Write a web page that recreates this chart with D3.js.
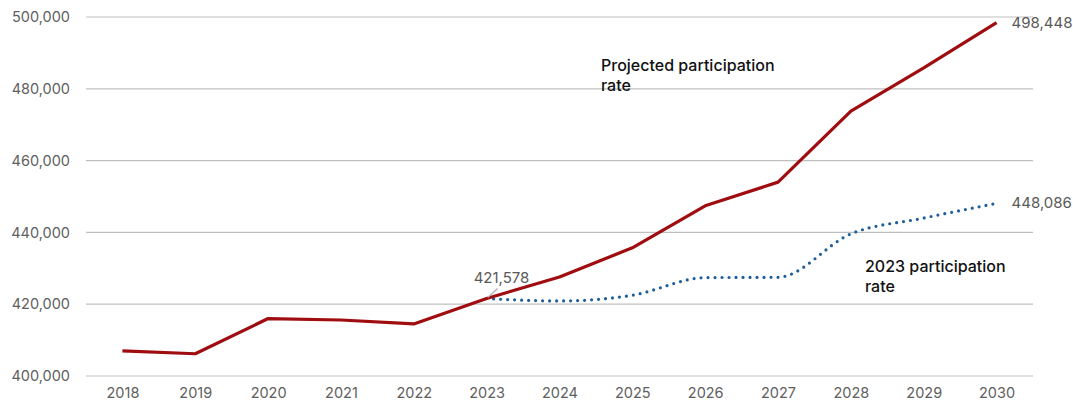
<!DOCTYPE html>
<html><head><meta charset="utf-8">
<script src="https://cdn.jsdelivr.net/npm/d3@7/dist/d3.min.js"></script>
<style>
body{margin:0;background:#fff;}
svg{display:block;font-family:Inter, "Noto Sans", sans-serif;}
</style></head>
<body><svg id="c" width="1073" height="402"></svg>
<script>
const years = [2018,2019,2020,2021,2022,2023,2024,2025,2026,2027,2028,2029,2030];
const projected = [407000,406200,416000,415600,414500,421578,427600,435700,447400,454000,473800,485800,498448];
const blueYears = [2023,2024,2025,2026,2027,2028,2029,2030];
const rate2023 = [421578,420900,422500,427400,427500,439600,444000,448086];
const yTicks = [400000,420000,440000,460000,480000,500000];

(function(){
const svg = d3.select("#c");
const mLeft = 86, mRight = 1033, mTop = 17, mBottom = 376;
const x = d3.scalePoint().domain(years).range([mLeft, mRight]).padding(0.5);
const y = d3.scaleLinear().domain([400000, 500000]).range([mBottom, mTop]);
const fmt = d3.format(",");

// gridlines
svg.append("g").selectAll("line").data(yTicks).join("line")
  .attr("x1", mLeft).attr("x2", mRight)
  .attr("y1", d => y(d)).attr("y2", d => y(d))
  .attr("stroke", "#bfbfbf").attr("stroke-width", 1.2);

// y axis labels
const ya = svg.append("g").attr("transform", `translate(${mLeft},0)`)
  .call(d3.axisLeft(y).tickValues(yTicks).tickFormat(fmt).tickSize(0).tickPadding(16));
ya.select(".domain").remove();
ya.selectAll("text").attr("fill", "#606060").style("font-size", "14.5px").style("font-family", "Inter, sans-serif");

// x axis labels
const xa = svg.append("g").attr("transform", `translate(0,${mBottom})`)
  .call(d3.axisBottom(x).tickSize(0).tickPadding(12));
xa.select(".domain").remove();
xa.selectAll("text").attr("fill", "#606060").style("font-size", "14.5px").style("font-family", "Inter, sans-serif");

// blue dotted line
svg.append("path")
  .datum(blueYears.map((d, i) => [d, rate2023[i]]))
  .attr("fill", "none").attr("stroke", "#1f5f99").attr("stroke-width", 3.2)
  .attr("stroke-linecap", "round").attr("stroke-dasharray", "0 7")
  .attr("d", d3.line().x(d => x(d[0])).y(d => y(d[1])).curve(d3.curveMonotoneX));

// red line
svg.append("path")
  .datum(years.map((d, i) => [d, projected[i]]))
  .attr("fill", "none").attr("stroke", "#a00d10").attr("stroke-width", 3.2)
  .attr("stroke-linejoin", "round")
  .attr("d", d3.line().x(d => x(d[0])).y(d => y(d[1])));

// leader line for 421,578
const px = x(2023), py = y(421578);
svg.append("line").attr("x1", px + 1).attr("y1", py - 1).attr("x2", px + 11).attr("y2", py - 10)
  .attr("stroke", "#b0b0b0").attr("stroke-width", 1.2);

const valStyle = s => s.attr("fill", "#595959").style("font-size", "15px");
valStyle(svg.append("text").attr("x", px - 13).attr("y", py - 16).text(fmt(421578)));
valStyle(svg.append("text").attr("x", x(2030) + 15).attr("y", y(498448) + 5).text(fmt(498448)));
valStyle(svg.append("text").attr("x", x(2030) + 15).attr("y", y(448086) + 5).text(fmt(448086)));

// series labels
const lab = (tx, ty, lines) => {
  const t = svg.append("text").attr("x", tx).attr("y", ty).attr("fill", "#111").style("font-size", "16px").style("font-weight", 500);
  lines.forEach((l, i) => t.append("tspan").attr("x", tx).attr("dy", i ? 19.5 : 0).text(l));
};
lab(601, 71, ["Projected participation", "rate"]);
lab(865, 272, ["2023 participation", "rate"]);
})();
</script></body></html>
